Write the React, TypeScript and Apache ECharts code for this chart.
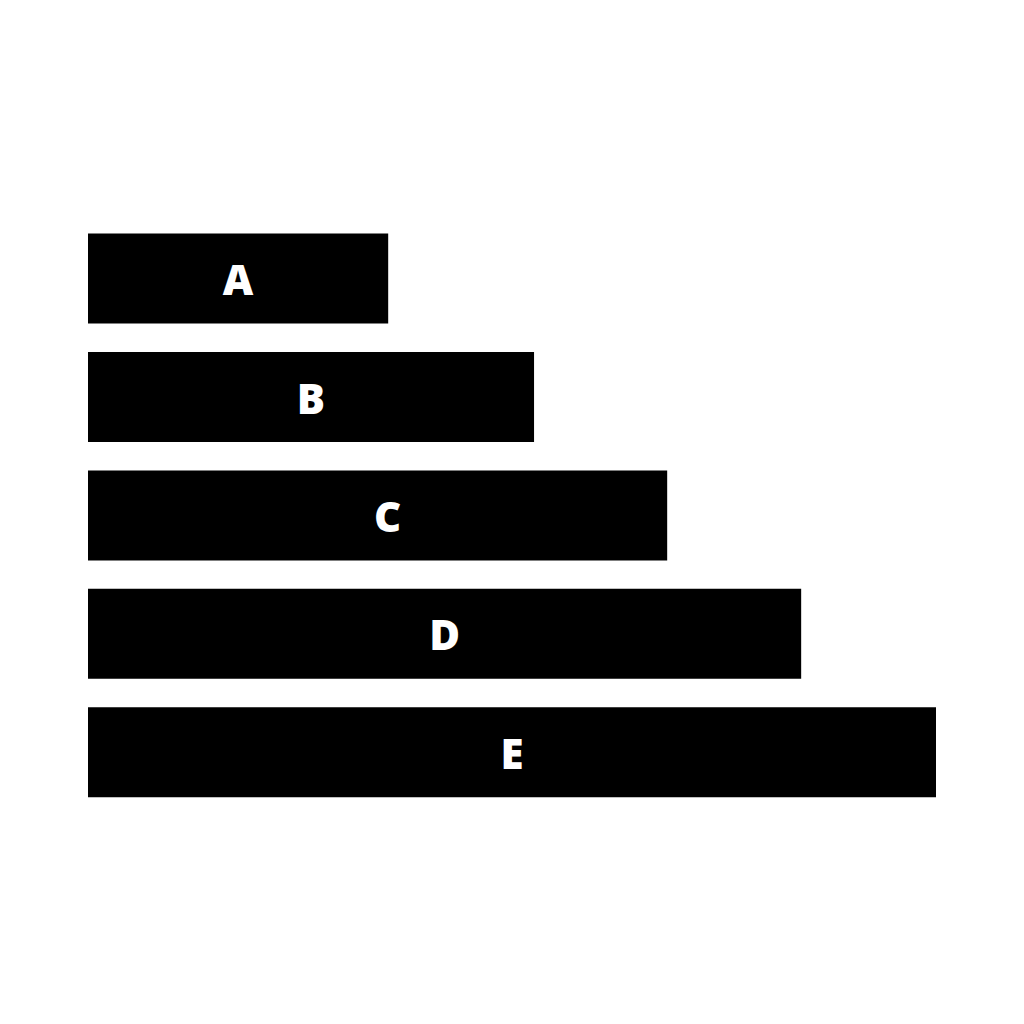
import React, { useEffect, useRef } from "react";
import * as echarts from "echarts";

const categories = ["A", "B", "C", "D", "E"];
const values = [35.4, 52.6, 68.3, 84.1, 100];
const labelShiftX = [0, 0, 10, 0, 0];

export default function App() {
  const ref = useRef<HTMLDivElement>(null);
  useEffect(() => {
    const chart = echarts.init(ref.current!, null, { renderer: "svg" });
    chart.setOption({
      animation: false,
      backgroundColor: "#ffffff",
      grid: { left: 88, right: 88, top: 219.4, height: 592, containLabel: false },
      xAxis: { type: "value", min: 0, max: 100, show: false },
      yAxis: { type: "category", data: categories, inverse: true, show: false },
      series: [
        {
          type: "bar",
          data: values.map((v, i) => ({
            value: v,
            label: { offset: [labelShiftX[i], 0] },
          })),
          barWidth: 90,
          itemStyle: { color: "#000000" },
          label: {
            show: true,
            position: "inside",
            formatter: "{b}",
            color: "#ffffff",
            fontFamily: "Open Sans",
            fontWeight: 800,
            fontSize: 42,
          },
        },
      ],
    });
    return () => chart.dispose();
  }, []);
  return <div ref={ref} style={{ width: 1024, height: 1024, margin: -8 }} />;
}
